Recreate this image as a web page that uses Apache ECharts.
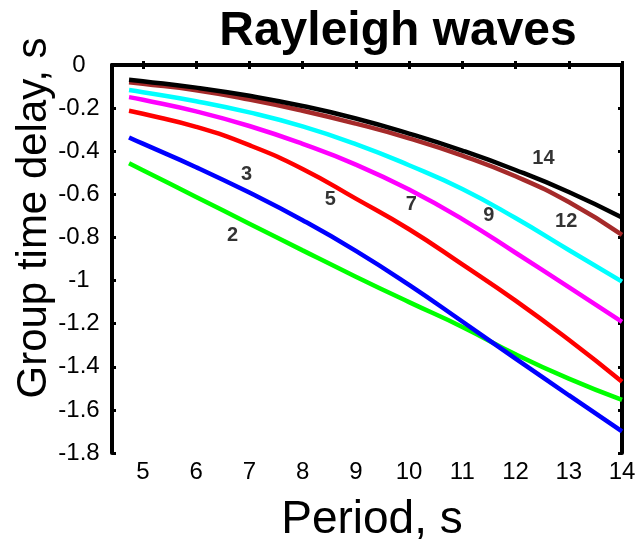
<!DOCTYPE html>
<html><head><meta charset="utf-8">
<script src="https://cdn.jsdelivr.net/npm/echarts@6/dist/echarts.min.js"></script>
<style>html,body{margin:0;padding:0;background:#fff}#c{width:641px;height:552px}</style>
</head><body><div id="c"></div>
<script>
var periods = [4.74, 5, 6, 7, 8, 9, 10, 11, 12, 13, 14];
var s2  = [-0.456, -0.488, -0.612, -0.736, -0.860, -0.982, -1.100, -1.215, -1.342, -1.455, -1.554];
var s3  = [-0.336, -0.365, -0.474, -0.592, -0.720, -0.862, -1.020, -1.190, -1.362, -1.532, -1.700];
var s5  = [-0.212, -0.226, -0.287, -0.372, -0.482, -0.620, -0.762, -0.925, -1.093, -1.275, -1.469];
var s7  = [-0.149, -0.161, -0.215, -0.283, -0.366, -0.462, -0.578, -0.715, -0.871, -1.030, -1.192];
var s9  = [-0.116, -0.126, -0.168, -0.220, -0.285, -0.367, -0.465, -0.575, -0.710, -0.858, -1.005];
var s12 = [-0.080, -0.087, -0.117, -0.160, -0.212, -0.272, -0.340, -0.420, -0.516, -0.636, -0.788];
var s14 = [-0.068, -0.075, -0.105, -0.143, -0.190, -0.248, -0.318, -0.397, -0.487, -0.589, -0.707];
var seriesNames = ['2', '3', '5', '7', '9', '12', '14'];
var seriesValues = [s2, s3, s5, s7, s9, s12, s14];
var seriesColors = ['#00ff00', '#0000ff', '#ff0000', '#ff00ff', '#00ffff', '#a52a2a', '#000000'];
var labelX = [6.685, 6.947, 8.523, 10.043, 11.499, 12.951, 12.525];
var labelY = [-0.792, -0.510, -0.626, -0.645, -0.700, -0.727, -0.433];
var xTicks = [5, 6, 7, 8, 9, 10, 11, 12, 13, 14];
var xMin = 4.42, xMax = 14, yMin = -1.8, yMax = 0, yStep = 0.2;
var titleText = 'Rayleigh waves', xTitle = 'Period, s', yTitle = 'Group time delay, s';

var FONT = '"Liberation Sans", Arial, Helvetica, sans-serif';
var chart = echarts.init(document.getElementById('c'), null, {renderer: 'canvas'});

var series = seriesValues.map(function (vals, i) {
  return {
    type: 'line', name: seriesNames[i], smooth: true, showSymbol: false,
    data: periods.map(function (p, j) { return [p, vals[j]]; }),
    lineStyle: {color: seriesColors[i], width: 4.5}, z: 3 + i
  };
});
series.push({
  type: 'scatter', symbolSize: 0, z: 20,
  data: seriesNames.map(function (n, i) { return {value: [labelX[i], labelY[i]], name: n}; }),
  label: {show: true, position: 'inside', formatter: '{b}', color: '#000',
    fontFamily: FONT, fontWeight: 'bold', fontSize: 20}
});

function fmt(v) { return String(Number(v.toFixed(1))); }

chart.setOption({
  animation: false,
  grid: {left: 112, right: 19, top: 65, bottom: 99, containLabel: false, outerBoundsMode: 'none'},
  graphic: [
    {type: 'text', x: 398, y: 32, style: {text: titleText, textAlign: 'center', textVerticalAlign: 'middle',
      fontFamily: FONT, fontWeight: 'bold', fontSize: 48, fill: '#000'}},
    {type: 'text', x: 372, y: 520, style: {text: xTitle, textAlign: 'center', textVerticalAlign: 'middle',
      fontFamily: FONT, fontSize: 46, fill: '#000'}},
    {type: 'text', x: 34, y: 218, rotation: Math.PI / 2, style: {text: yTitle, textAlign: 'center', textVerticalAlign: 'middle',
      fontFamily: FONT, fontSize: 42, fill: '#000'}}
  ],
  xAxis: [{
    type: 'value', min: xMin, max: xMax, position: 'bottom',
    axisLine: {show: true, lineStyle: {color: '#000', width: 4}},
    axisTick: {show: true, inside: true, length: 4, lineStyle: {color: '#000', width: 3}, customValues: xTicks},
    axisLabel: {show: true, customValues: xTicks, margin: 7, color: '#000', fontFamily: FONT, fontSize: 24},
    splitLine: {show: false}
  }, {
    type: 'value', min: xMin, max: xMax, position: 'top',
    axisLine: {show: true, lineStyle: {color: '#000', width: 3}},
    axisTick: {show: true, inside: true, length: 4, lineStyle: {color: '#000', width: 3}, customValues: xTicks},
    axisLabel: {show: false}, splitLine: {show: false}
  }],
  yAxis: [{
    type: 'value', min: yMin, max: yMax, interval: yStep, position: 'left',
    axisLine: {show: true, lineStyle: {color: '#000', width: 4}},
    axisTick: {show: true, inside: true, length: 4, lineStyle: {color: '#000', width: 3}},
    axisLabel: {show: true, align: 'center', margin: 33, color: '#000', fontFamily: FONT, fontSize: 24, formatter: fmt},
    splitLine: {show: false}
  }, {
    type: 'value', min: yMin, max: yMax, interval: yStep, position: 'right',
    axisLine: {show: true, lineStyle: {color: '#000', width: 4}},
    axisTick: {show: true, inside: true, length: 4, lineStyle: {color: '#000', width: 3}},
    axisLabel: {show: false}, splitLine: {show: false}
  }],
  series: series
});
</script></body></html>
